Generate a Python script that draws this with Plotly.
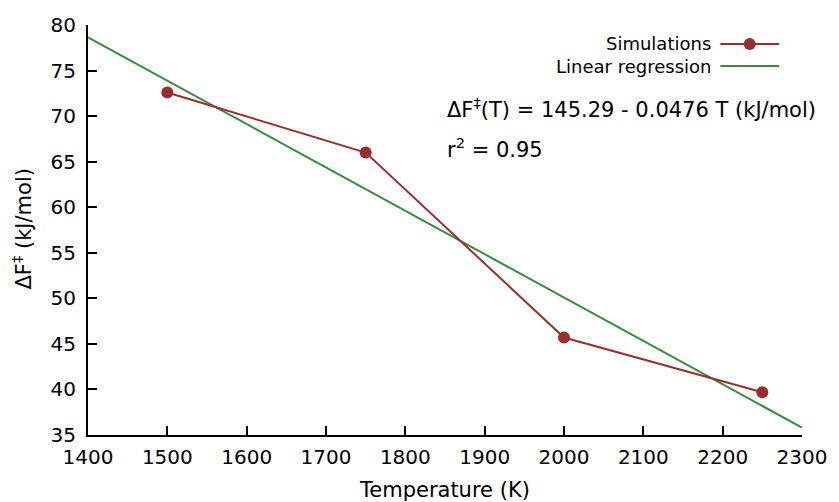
import plotly.graph_objects as go

# Free-energy barrier from simulations at each temperature
temperature = [1500, 1750, 2000, 2250]
delta_f = [72.6, 66.0, 45.7, 39.7]

# Linear fit: dF(T) = intercept + slope * T
intercept = 145.29
slope = -0.0476
r_squared = 0.95
fit_t = [1400, 2300]
fit_f = [intercept + slope * t for t in fit_t]

x_ticks = list(range(1400, 2301, 100))
y_ticks = list(range(35, 81, 5))

RED = "#9a2e2e"
GREEN = "#3a8a3f"
FONT = "DejaVu Sans"

fig = go.Figure()
fig.add_trace(go.Scatter(
    x=fit_t, y=fit_f, mode="lines", name="Linear regression",
    line=dict(color=GREEN, width=2), showlegend=False,
))
fig.add_trace(go.Scatter(
    x=temperature, y=delta_f, mode="lines+markers", name="Simulations",
    line=dict(color=RED, width=2), marker=dict(color=RED, size=12),
    showlegend=False,
))

# Key in the top-right corner: label on the left, sample on the right
key = [("Simulations", RED, True, 0.9537), ("Linear regression", GREEN, False, 0.900)]
for label, color, with_marker, ky in key:
    fig.add_annotation(
        x=0.870, y=ky, xref="paper", yref="paper", text=label, showarrow=False,
        xanchor="right", yanchor="middle", xshift=4,
        font=dict(family=FONT, size=18, color="black"),
    )
    fig.add_shape(type="line", xref="paper", yref="paper",
                  x0=0.8856, x1=0.968, y0=ky, y1=ky, line=dict(color=color, width=2))
    if with_marker:
        fig.add_shape(type="circle", xref="paper", yref="paper",
                      xsizemode="pixel", ysizemode="pixel",
                      xanchor=0.9268, yanchor=ky, x0=-6, x1=6, y0=-6, y1=6,
                      fillcolor=color, line=dict(color=color, width=0))

fig.add_annotation(
    x=0.5007, y=0.7976, xref="paper", yref="paper", showarrow=False,
    xanchor="left", yanchor="middle",
    text=f"ΔF<sup>‡</sup>(T) = {intercept:.2f} - {abs(slope):.4f} T (kJ/mol)",
    font=dict(family=FONT, size=21, color="black"),
)
fig.add_annotation(
    x=0.5007, y=0.70, xref="paper", yref="paper", showarrow=False,
    xanchor="left", yanchor="middle",
    text=f"r<sup>2</sup> = {r_squared:.2f}",
    font=dict(family=FONT, size=21, color="black"),
)

# Axis titles
fig.add_annotation(
    x=0.499, y=-0.134, xref="paper", yref="paper", showarrow=False,
    xanchor="center", yanchor="middle", text="Temperature (K)",
    font=dict(family=FONT, size=21, color="black"),
)
fig.add_annotation(
    x=-0.092, y=0.502, xref="paper", yref="paper", showarrow=False,
    xanchor="center", yanchor="middle", textangle=-90,
    text="ΔF<sup>‡</sup> (kJ/mol)",
    font=dict(family=FONT, size=21, color="black"),
)

axis_common = dict(
    showline=True, linecolor="black", linewidth=2, mirror=False,
    ticks="inside", ticklen=9, tickwidth=2, tickcolor="black",
    showgrid=False, zeroline=False,
    tickfont=dict(family=FONT, size=20, color="black"),
)
fig.update_xaxes(range=[1400, 2300], tickvals=x_ticks, ticklabelstandoff=3, **axis_common)
fig.update_yaxes(range=[35, 80], tickvals=y_ticks, ticklabelstandoff=6, **axis_common)

fig.update_layout(
    width=839, height=502,
    margin=dict(l=88, r=31, t=25, b=67),
    paper_bgcolor="white", plot_bgcolor="white",
    showlegend=False,
    font=dict(family=FONT, color="black"),
)

fig.write_html("out.html")
